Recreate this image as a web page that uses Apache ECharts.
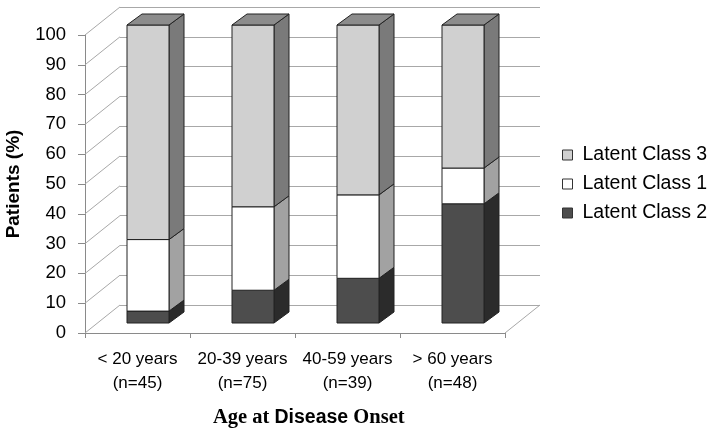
<!DOCTYPE html>
<html>
<head>
<meta charset="utf-8">
<script src="https://cdn.jsdelivr.net/npm/echarts@6/dist/echarts.min.js"></script>
<style>html,body{margin:0;padding:0;background:#fff}#c{width:714px;height:433px}</style>
</head>
<body>
<div id="c"></div>
<script>
// ---- data ----
var categories = ['< 20 years\n(n=45)', '20-39 years\n(n=75)', '40-59 years\n(n=39)', '> 60 years\n(n=48)'];
var latentClass2 = [4, 11, 15, 40];
var latentClass1 = [24, 28, 28, 12];
var latentClass3 = [72, 61, 57, 48];
var yTicks = [0, 10, 20, 30, 40, 50, 60, 70, 80, 90, 100];

// ---- style constants ----
var WALL_DEPTH = [35, 28];     // pixel depth of the 3D box
var BAR_OFFSET = [10.5, 10];   // bar front plane offset from front plane
var BAR_DEPTH = [15, 11];      // bar thickness in depth
var BAR_RATIO = 0.4;
var GRID_COLOR = '#a8a8a8';
var EDGE = '#222';
var SANS = 'Liberation Sans, Arial, sans-serif';
var SERIF = 'Liberation Serif, Times New Roman, serif';

function stackRows(vals, bases) {
  return vals.map(function (v, i) { return [i, bases[i], v]; });
}
var base2 = latentClass2.map(function () { return 0; });
var base1 = latentClass2.slice();
var base3 = latentClass2.map(function (v, i) { return v + latentClass1[i]; });

function makeBar(front, side, top, drawTop) {
  return function (params, api) {
    var cat = api.value(0), base = api.value(1), val = api.value(2);
    var pB = api.coord([cat, base]);
    var pT = api.coord([cat, base + val]);
    var w = api.size([1, 0])[0] * BAR_RATIO;
    var x0 = pB[0] - w / 2 + BAR_OFFSET[0], x1 = x0 + w;
    var yb = pB[1] - BAR_OFFSET[1], yt = pT[1] - BAR_OFFSET[1];
    var dx = BAR_DEPTH[0], dy = BAR_DEPTH[1];
    var st = { stroke: EDGE, lineWidth: 1 };
    var children = [
      { type: 'polygon', shape: { points: [[x1, yb], [x1, yt], [x1 + dx, yt - dy], [x1 + dx, yb - dy]] },
        style: Object.assign({ fill: side }, st) },
      { type: 'rect', shape: { x: x0, y: yt, width: w, height: yb - yt },
        style: Object.assign({ fill: front }, st) }
    ];
    if (drawTop) {
      children.push({ type: 'polygon', shape: { points: [[x0, yt], [x1, yt], [x1 + dx, yt - dy], [x0 + dx, yt - dy]] },
        style: Object.assign({ fill: top }, st) });
    }
    return { type: 'group', children: children };
  };
}

var chart = echarts.init(document.getElementById('c'), null, { renderer: 'canvas' });
chart.setOption({
  animation: false,
  backgroundColor: '#fff',
  textStyle: { fontFamily: SANS },
  grid: [
    { left: 85, right: 209, top: 35, bottom: 100, containLabel: false, outerBoundsMode: 'none' },
    { left: 120, right: 174, top: 7, bottom: 128, containLabel: false, outerBoundsMode: 'none' }
  ],
  xAxis: [
    {
      gridIndex: 0, type: 'category', data: categories, boundaryGap: true,
      axisLine: { show: true, lineStyle: { color: '#8a8a8a', width: 1 } },
      axisTick: { show: true, length: 5, interval: 0, lineStyle: { color: '#8a8a8a' } },
      axisLabel: { interval: 0, margin: 14, color: '#000', fontSize: 17, lineHeight: 24, fontFamily: SANS }
    },
    { gridIndex: 1, type: 'category', data: categories, show: false }
  ],
  yAxis: [
    {
      gridIndex: 0, type: 'value', min: 0, max: 100, interval: 10,
      name: 'Patients (%)', nameLocation: 'middle', nameGap: 62, nameRotate: 90,
      nameTextStyle: { fontSize: 19, fontWeight: 'bold', color: '#000', fontFamily: SANS },
      axisLine: { show: true, lineStyle: { color: '#8a8a8a', width: 1 } },
      axisTick: { show: true, length: 7, lineStyle: { color: '#8a8a8a' } },
      axisLabel: { margin: 19, color: '#000', fontSize: 18.5, fontFamily: SANS },
      splitLine: { show: false }
    },
    {
      gridIndex: 1, type: 'value', min: 0, max: 100, interval: 10,
      axisLine: { show: false }, axisTick: { show: false }, axisLabel: { show: false },
      splitLine: { show: true, lineStyle: { color: GRID_COLOR, width: 1 } }
    }
  ],
  legend: {
    orient: 'vertical', left: 557, top: 140, icon: 'rect',
    itemWidth: 10, itemHeight: 10, itemGap: 9,
    data: ['Latent Class 3', 'Latent Class 1', 'Latent Class 2'],
    textStyle: { fontSize: 19.5, lineHeight: 20, color: '#000', fontFamily: SANS, padding: [0, 0, 0, 5] },
    itemStyle: { borderColor: '#333', borderWidth: 1 }
  },
  graphic: [{
    type: 'text', left: 213, top: 407,
    style: {
      text: '{s|Age at }{a|Disease}{s| Onset}',
      rich: {
        s: { fontFamily: SERIF, fontWeight: 'bold', fontSize: 20.5, fill: '#000' },
        a: { fontFamily: SANS, fontWeight: 'bold', fontSize: 19.5, fill: '#000' }
      }
    }
  }],
  series: [
    {
      type: 'custom', name: 'walls', xAxisIndex: 0, yAxisIndex: 0, silent: true, z: 1,
      data: yTicks.map(function (v) { return [0, v]; }),
      encode: { x: 0, y: 1 },
      renderItem: function (params, api) {
        var cs = params.coordSys;
        var p = api.coord([0, api.value(1)]);
        var children = [{
          type: 'line', shape: { x1: cs.x, y1: p[1], x2: cs.x + WALL_DEPTH[0], y2: p[1] - WALL_DEPTH[1] },
          style: { stroke: GRID_COLOR, lineWidth: 1 }
        }];
        if (api.value(1) === 0) {
          children.push({
            type: 'line', shape: { x1: cs.x + cs.width, y1: p[1], x2: cs.x + cs.width + WALL_DEPTH[0], y2: p[1] - WALL_DEPTH[1] },
            style: { stroke: GRID_COLOR, lineWidth: 1 }
          });
        }
        return { type: 'group', children: children };
      }
    },
    {
      type: 'custom', name: 'Latent Class 2', xAxisIndex: 0, yAxisIndex: 0, z: 3,
      itemStyle: { color: '#4d4d4d' },
      data: stackRows(latentClass2, base2), encode: { x: 0, y: 2 },
      renderItem: makeBar('#4d4d4d', '#2b2b2b', '#3a3a3a', false)
    },
    {
      type: 'custom', name: 'Latent Class 1', xAxisIndex: 0, yAxisIndex: 0, z: 4,
      itemStyle: { color: '#ffffff' },
      data: stackRows(latentClass1, base1), encode: { x: 0, y: 2 },
      renderItem: makeBar('#ffffff', '#a2a2a2', '#cccccc', false)
    },
    {
      type: 'custom', name: 'Latent Class 3', xAxisIndex: 0, yAxisIndex: 0, z: 5,
      itemStyle: { color: '#d0d0d0' },
      data: stackRows(latentClass3, base3), encode: { x: 0, y: 2 },
      renderItem: makeBar('#d0d0d0', '#7a7a7a', '#8c8c8c', true)
    }
  ]
});
</script>
</body>
</html>
